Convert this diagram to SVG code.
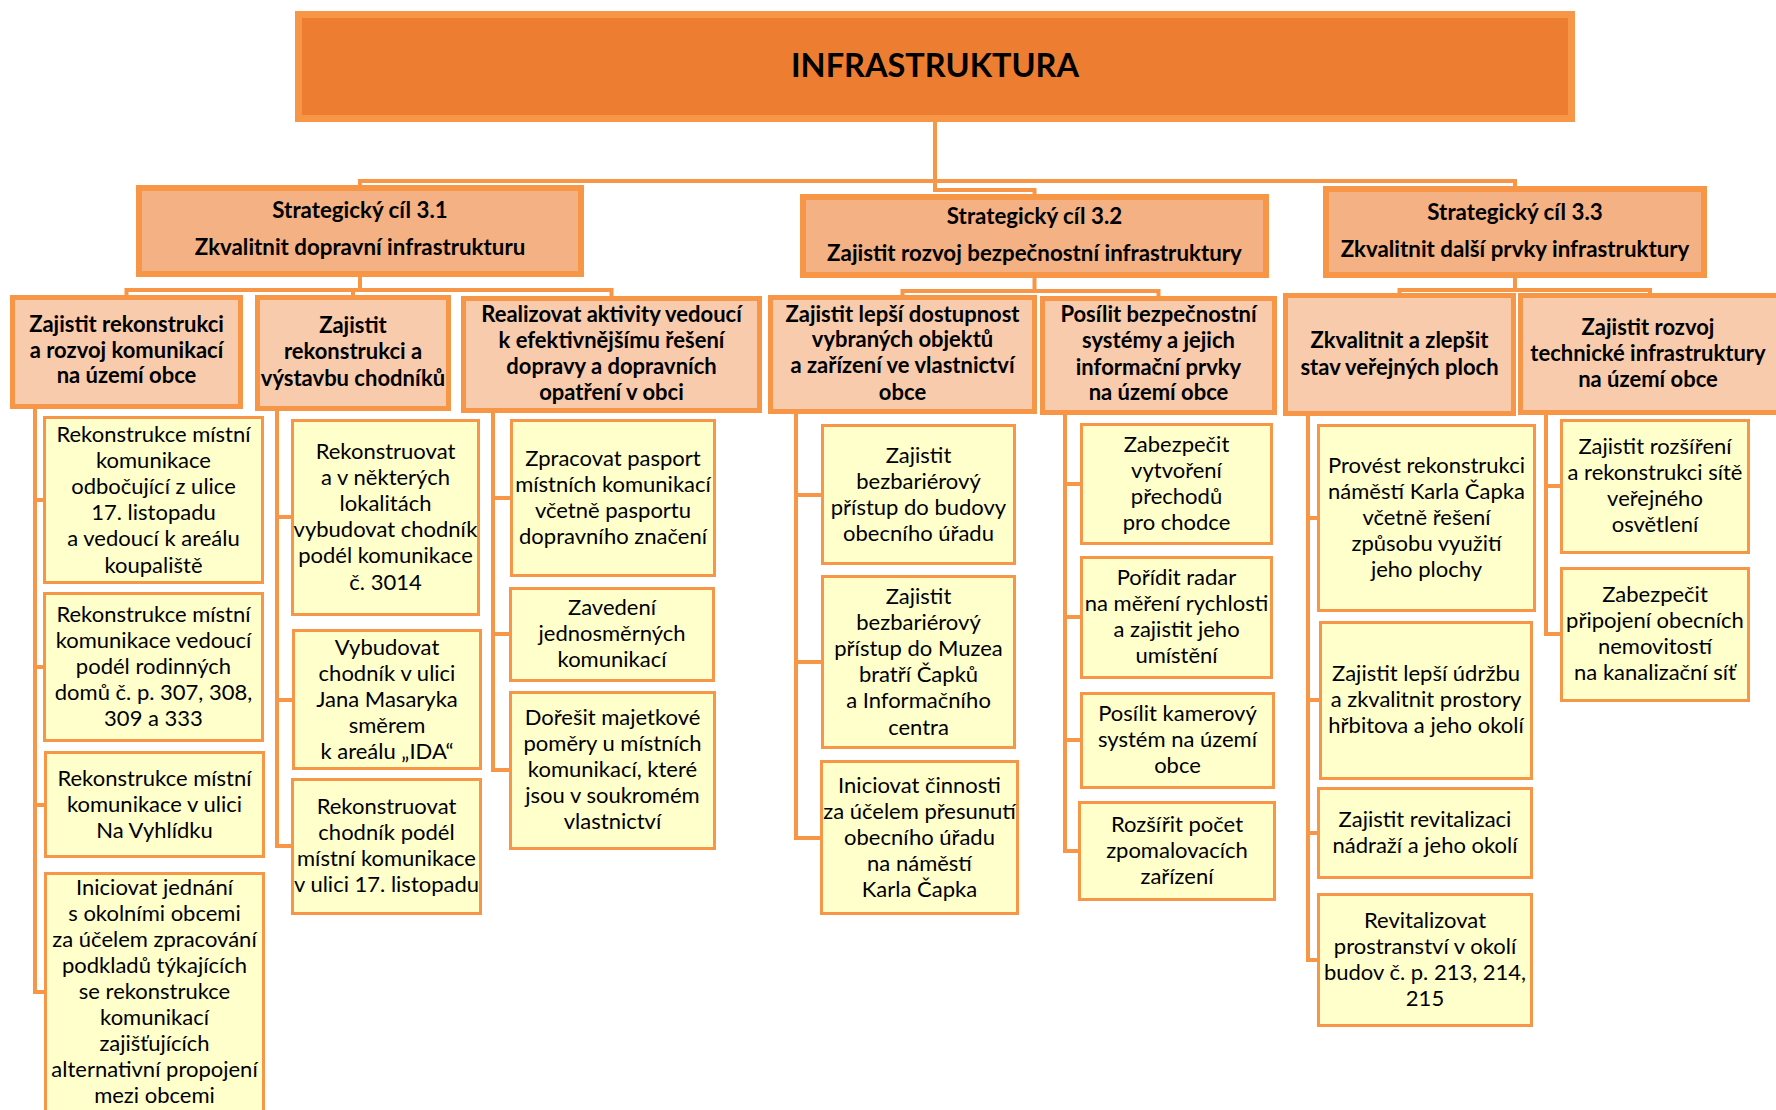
<svg xmlns="http://www.w3.org/2000/svg" width="1776" height="1110" viewBox="0 0 1776 1110">
<style>
text{font-family:Lato,"Liberation Sans",sans-serif;fill:#000;text-anchor:middle}
.t0{font-size:32.5px;font-weight:700}
.t2{font-size:22.3px;font-weight:700}
.t3{font-size:22px;font-weight:700}
.t4{font-size:22px}
.top{fill:#ED7D31;stroke:#F79646;stroke-width:7}
.sc{fill:#F4B183;stroke:#F79646;stroke-width:6}
.l3{fill:#F8CBAD;stroke:#F79646;stroke-width:5}
.l4{fill:#FFFFCC;stroke:#F79646;stroke-width:3}
.conn{fill:none;stroke:#F79646;stroke-width:4}
</style>
<rect width="1776" height="1110" fill="#fff"/>
<g id="connectors" class="conn">
<path d="M935 122V190H1034.5V195"/>
<path d="M360 186V181H1515V187"/>
<path d="M360 277V290M126.5 296V290H611.5V297M353 290V296"/>
<path d="M1034.5 278V291M902.5 296V291H1158.5V297"/>
<path d="M1515 278V290M1399.5 294V290H1650V294"/>
<path d="M35 409V992H44M35 500H43M35 667H43M35 805H44"/>
<path d="M277 411V846H291M277 517H291M277 700H292"/>
<path d="M493 413V770H509M493 498H510M493 634H509"/>
<path d="M796 414V838H820M796 495H821M796 662H821"/>
<path d="M1065 415V851H1078M1065 484H1080M1065 617H1080M1065 740H1080"/>
<path d="M1308 416V960H1317M1308 518H1317M1308 700H1319M1308 833H1317"/>
<path d="M1546 415V634H1560M1546 486H1560"/>
</g>
<g id="n-top"><rect class="top" x="298.5" y="14.5" width="1273" height="104"/><text class="t0" x="935" y="77">INFRASTRUKTURA</text></g>
<g id="n-sc31"><rect class="sc" x="139" y="188" width="442" height="86"/><text class="t2"><tspan x="360" y="218">Strategický cíl 3.1</tspan><tspan x="360" y="255">Zkvalitnit dopravní infrastrukturu</tspan></text></g>
<g id="n-sc32"><rect class="sc" x="803" y="197" width="463" height="78"/><text class="t2"><tspan x="1034.5" y="224">Strategický cíl 3.2</tspan><tspan x="1034.5" y="261">Zajistit rozvoj bezpečnostní infrastruktury</tspan></text></g>
<g id="n-sc33"><rect class="sc" x="1326" y="189" width="378" height="86"/><text class="t2"><tspan x="1515" y="220">Strategický cíl 3.3</tspan><tspan x="1515" y="257">Zkvalitnit další prvky infrastruktury</tspan></text></g>
<g id="n-A1"><rect class="l3" x="12.5" y="297.5" width="228" height="109"/><text class="t3"><tspan x="126.5" y="332">Zajistit rekonstrukci</tspan><tspan x="126.5" y="358">a rozvoj komunikací</tspan><tspan x="126.5" y="383">na území obce</tspan></text></g>
<g id="n-A2"><rect class="l3" x="257.5" y="297.5" width="191" height="111"/><text class="t3"><tspan x="353" y="333">Zajistit</tspan><tspan x="353" y="359">rekonstrukci a</tspan><tspan x="353" y="386">výstavbu chodníků</tspan></text></g>
<g id="n-A3"><rect class="l3" x="463.5" y="298.5" width="296" height="112"/><text class="t3"><tspan x="611.5" y="322">Realizovat aktivity vedoucí</tspan><tspan x="611.5" y="348">k efektivnějšímu řešení</tspan><tspan x="611.5" y="374">dopravy a dopravních</tspan><tspan x="611.5" y="400">opatření v obci</tspan></text></g>
<g id="n-B1"><rect class="l3" x="770.5" y="297.5" width="264" height="114"/><text class="t3"><tspan x="902.5" y="322">Zajistit lepší dostupnost</tspan><tspan x="902.5" y="347">vybraných objektů</tspan><tspan x="902.5" y="373">a zařízení ve vlastnictví</tspan><tspan x="902.5" y="400">obce</tspan></text></g>
<g id="n-B2"><rect class="l3" x="1042.5" y="298.5" width="232" height="114"/><text class="t3"><tspan x="1158.5" y="322">Posílit bezpečnostní</tspan><tspan x="1158.5" y="348">systémy a jejich</tspan><tspan x="1158.5" y="375">informační prvky</tspan><tspan x="1158.5" y="400">na území obce</tspan></text></g>
<g id="n-C1"><rect class="l3" x="1285.5" y="295.5" width="228" height="118"/><text class="t3"><tspan x="1399.5" y="348">Zkvalitnit a zlepšit</tspan><tspan x="1399.5" y="375">stav veřejných ploch</tspan></text></g>
<g id="n-C2"><rect class="l3" x="1520.5" y="295.5" width="262" height="117"/><text class="t3"><tspan x="1648" y="335">Zajistit rozvoj</tspan><tspan x="1648" y="361">technické infrastruktury</tspan><tspan x="1648" y="387">na území obce</tspan></text></g>
<g id="n-a1"><rect class="l4" x="44.5" y="417.5" width="218" height="165"/><text class="t4"><tspan x="153.5" y="441.5">Rekonstrukce místní</tspan><tspan x="153.5" y="467.7">komunikace</tspan><tspan x="153.5" y="493.9">odbočující z ulice</tspan><tspan x="153.5" y="520.1">17. listopadu</tspan><tspan x="153.5" y="546.3">a vedoucí k areálu</tspan><tspan x="153.5" y="572.5">koupaliště</tspan></text></g>
<g id="n-a2"><rect class="l4" x="44.5" y="593.5" width="218" height="147"/><text class="t4"><tspan x="153.5" y="621.6">Rekonstrukce místní</tspan><tspan x="153.5" y="647.8">komunikace vedoucí</tspan><tspan x="153.5" y="674">podél rodinných</tspan><tspan x="153.5" y="700.2">domů č. p. 307, 308,</tspan><tspan x="153.5" y="726.4">309 a 333</tspan></text></g>
<g id="n-a3"><rect class="l4" x="45.5" y="752.5" width="218" height="104"/><text class="t4"><tspan x="154.5" y="785.8">Rekonstrukce místní</tspan><tspan x="154.5" y="812">komunikace v ulici</tspan><tspan x="154.5" y="838.2">Na Vyhlídku</tspan></text></g>
<g id="n-a4"><rect class="l4" x="45.5" y="873.5" width="218" height="245"/><text class="t4"><tspan x="154.5" y="895">Iniciovat jednání</tspan><tspan x="154.5" y="921">s okolními obcemi</tspan><tspan x="154.5" y="947">za účelem zpracování</tspan><tspan x="154.5" y="973">podkladů týkajících</tspan><tspan x="154.5" y="999">se rekonstrukce</tspan><tspan x="154.5" y="1025">komunikací</tspan><tspan x="154.5" y="1051">zajišťujících</tspan><tspan x="154.5" y="1077">alternativní propojení</tspan><tspan x="154.5" y="1103">mezi obcemi</tspan></text></g>
<g id="n-b1"><rect class="l4" x="292.5" y="420.5" width="186" height="194"/><text class="t4"><tspan x="385.5" y="458.5">Rekonstruovat</tspan><tspan x="385.5" y="484.7">a v některých</tspan><tspan x="385.5" y="510.9">lokalitách</tspan><tspan x="385.5" y="537.1">vybudovat chodník</tspan><tspan x="385.5" y="563.3">podél komunikace</tspan><tspan x="385.5" y="589.5">č. 3014</tspan></text></g>
<g id="n-b2"><rect class="l4" x="293.5" y="630.5" width="187" height="138"/><text class="t4"><tspan x="387" y="654.6">Vybudovat</tspan><tspan x="387" y="680.8">chodník v ulici</tspan><tspan x="387" y="707">Jana Masaryka</tspan><tspan x="387" y="733.2">směrem</tspan><tspan x="387" y="759.4">k areálu „IDA“</tspan></text></g>
<g id="n-b3"><rect class="l4" x="292.5" y="779.5" width="188" height="134"/><text class="t4"><tspan x="386.5" y="813.7">Rekonstruovat</tspan><tspan x="386.5" y="839.9">chodník podél</tspan><tspan x="386.5" y="866.1">místní komunikace</tspan><tspan x="386.5" y="892.3">v ulici 17. listopadu</tspan></text></g>
<g id="n-c1"><rect class="l4" x="511.5" y="420.5" width="203" height="155"/><text class="t4"><tspan x="613" y="465.7">Zpracovat pasport</tspan><tspan x="613" y="491.9">místních komunikací</tspan><tspan x="613" y="518.1">včetně pasportu</tspan><tspan x="613" y="544.3">dopravního značení</tspan></text></g>
<g id="n-c2"><rect class="l4" x="510.5" y="588.5" width="203" height="92"/><text class="t4"><tspan x="612" y="614.8">Zavedení</tspan><tspan x="612" y="641">jednosměrných</tspan><tspan x="612" y="667.2">komunikací</tspan></text></g>
<g id="n-c3"><rect class="l4" x="510.5" y="692.5" width="204" height="156"/><text class="t4"><tspan x="612.5" y="724.6">Dořešit majetkové</tspan><tspan x="612.5" y="750.8">poměry u místních</tspan><tspan x="612.5" y="777">komunikací, které</tspan><tspan x="612.5" y="803.2">jsou v soukromém</tspan><tspan x="612.5" y="829.4">vlastnictví</tspan></text></g>
<g id="n-d1"><rect class="l4" x="822.5" y="425.5" width="192" height="138"/><text class="t4"><tspan x="918.5" y="462.7">Zajistit</tspan><tspan x="918.5" y="488.9">bezbariérový</tspan><tspan x="918.5" y="515.1">přístup do budovy</tspan><tspan x="918.5" y="541.3">obecního úřadu</tspan></text></g>
<g id="n-d2"><rect class="l4" x="822.5" y="576.5" width="192" height="171"/><text class="t4"><tspan x="918.5" y="603.5">Zajistit</tspan><tspan x="918.5" y="629.7">bezbariérový</tspan><tspan x="918.5" y="655.9">přístup do Muzea</tspan><tspan x="918.5" y="682.1">bratří Čapků</tspan><tspan x="918.5" y="708.3">a Informačního</tspan><tspan x="918.5" y="734.5">centra</tspan></text></g>
<g id="n-d3"><rect class="l4" x="821.5" y="761.5" width="196" height="152"/><text class="t4"><tspan x="919.5" y="792.6">Iniciovat činnosti</tspan><tspan x="919.5" y="818.8">za účelem přesunutí</tspan><tspan x="919.5" y="845">obecního úřadu</tspan><tspan x="919.5" y="871.2">na náměstí</tspan><tspan x="919.5" y="897.4">Karla Čapka</tspan></text></g>
<g id="n-e1"><rect class="l4" x="1081.5" y="424.5" width="190" height="119"/><text class="t4"><tspan x="1176.5" y="451.7">Zabezpečit</tspan><tspan x="1176.5" y="477.9">vytvoření</tspan><tspan x="1176.5" y="504.1">přechodů</tspan><tspan x="1176.5" y="530.3">pro chodce</tspan></text></g>
<g id="n-e2"><rect class="l4" x="1081.5" y="557.5" width="190" height="120"/><text class="t4"><tspan x="1176.5" y="584.7">Pořídit radar</tspan><tspan x="1176.5" y="610.9">na měření rychlosti</tspan><tspan x="1176.5" y="637.1">a zajistit jeho</tspan><tspan x="1176.5" y="663.3">umístění</tspan></text></g>
<g id="n-e3"><rect class="l4" x="1081.5" y="693.5" width="192" height="94"/><text class="t4"><tspan x="1177.5" y="720.8">Posílit kamerový</tspan><tspan x="1177.5" y="747">systém na území</tspan><tspan x="1177.5" y="773.2">obce</tspan></text></g>
<g id="n-e4"><rect class="l4" x="1079.5" y="802.5" width="195" height="97"/><text class="t4"><tspan x="1177" y="831.8">Rozšířit počet</tspan><tspan x="1177" y="858">zpomalovacích</tspan><tspan x="1177" y="884.2">zařízení</tspan></text></g>
<g id="n-f1"><rect class="l4" x="1318.5" y="425.5" width="216" height="185"/><text class="t4"><tspan x="1426.5" y="472.6">Provést rekonstrukci</tspan><tspan x="1426.5" y="498.8">náměstí Karla Čapka</tspan><tspan x="1426.5" y="525">včetně řešení</tspan><tspan x="1426.5" y="551.2">způsobu využití</tspan><tspan x="1426.5" y="577.4">jeho plochy</tspan></text></g>
<g id="n-f2"><rect class="l4" x="1320.5" y="622.5" width="211" height="156"/><text class="t4"><tspan x="1426" y="680.8">Zajistit lepší údržbu</tspan><tspan x="1426" y="707">a zkvalitnit prostory</tspan><tspan x="1426" y="733.2">hřbitova a jeho okolí</tspan></text></g>
<g id="n-f3"><rect class="l4" x="1318.5" y="788.5" width="213" height="89"/><text class="t4"><tspan x="1425" y="826.9">Zajistit revitalizaci</tspan><tspan x="1425" y="853.1">nádraží a jeho okolí</tspan></text></g>
<g id="n-f4"><rect class="l4" x="1318.5" y="894.5" width="213" height="131"/><text class="t4"><tspan x="1425" y="927.7">Revitalizovat</tspan><tspan x="1425" y="953.9">prostranství v okolí</tspan><tspan x="1425" y="980.1">budov č. p. 213, 214,</tspan><tspan x="1425" y="1006.3">215</tspan></text></g>
<g id="n-g1"><rect class="l4" x="1561.5" y="420.5" width="187" height="132"/><text class="t4"><tspan x="1655" y="453.7">Zajistit rozšíření</tspan><tspan x="1655" y="479.9">a rekonstrukci sítě</tspan><tspan x="1655" y="506.1">veřejného</tspan><tspan x="1655" y="532.3">osvětlení</tspan></text></g>
<g id="n-g2"><rect class="l4" x="1561.5" y="568.5" width="187" height="132"/><text class="t4"><tspan x="1655" y="601.7">Zabezpečit</tspan><tspan x="1655" y="627.9">připojení obecních</tspan><tspan x="1655" y="654.1">nemovitostí</tspan><tspan x="1655" y="680.3">na kanalizační síť</tspan></text></g>
</svg>
